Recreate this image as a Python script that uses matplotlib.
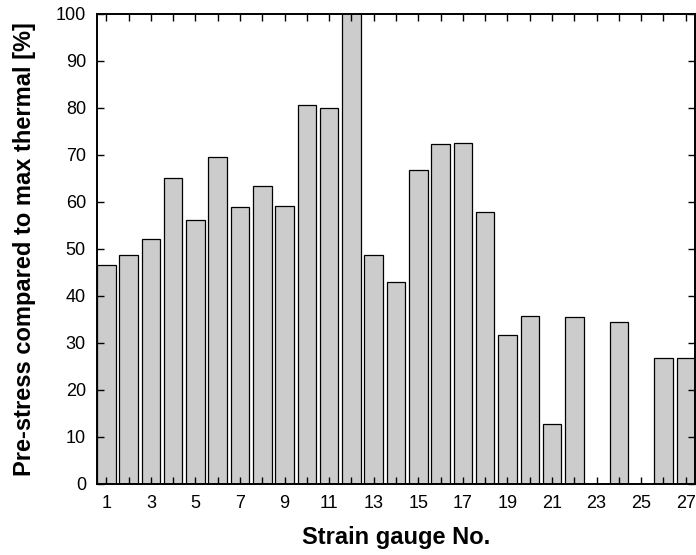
import numpy as np
import matplotlib
matplotlib.use("Agg")
import matplotlib.pyplot as plt

plt.rcParams['font.family'] = ['Liberation Sans', 'DejaVu Sans']

# strain gauge numbers and pre-stress values (% of max thermal)
gauges = np.arange(1, 28)
prestress = [46.6, 48.7, 52.1, 65.0, 56.2, 69.5, 59.0, 63.3, 59.1, 80.6,
             80.0, 104.0, 48.7, 43.0, 66.7, 72.3, 72.6, 57.9, 31.6, 35.7,
             12.8, 35.6, 0.0, 34.5, 0.0, 26.8, 26.9]
xtick_labels = [str(g) if g % 2 == 1 else '' for g in gauges]

fig = plt.figure(figsize=(6.96, 5.55), dpi=100)
ax = fig.add_axes([0.1394, 0.128, 0.8592, 0.8468])

ax.bar(gauges, prestress, width=0.83, color='#cccccc', edgecolor='black',
       linewidth=0.9, zorder=1)

ax.set_xlim(0.585, 27.415)
ax.set_ylim(0, 100)
ax.set_xticks(gauges)
ax.set_xticklabels(xtick_labels)
ax.set_yticks(np.arange(0, 101, 10))
ax.tick_params(direction='in', top=True, right=True, length=5, width=1,
               labelsize=13, pad=8)
for s in ax.spines.values():
    s.set_linewidth(1.4)
    s.set_zorder(3)

ax.set_xlabel('Strain gauge No.', fontsize=17, fontweight='bold', labelpad=10)
ax.set_ylabel('Pre-stress compared to max thermal [%]', fontsize=17,
              fontweight='bold', labelpad=14)

fig.savefig('out.png', dpi=100)
